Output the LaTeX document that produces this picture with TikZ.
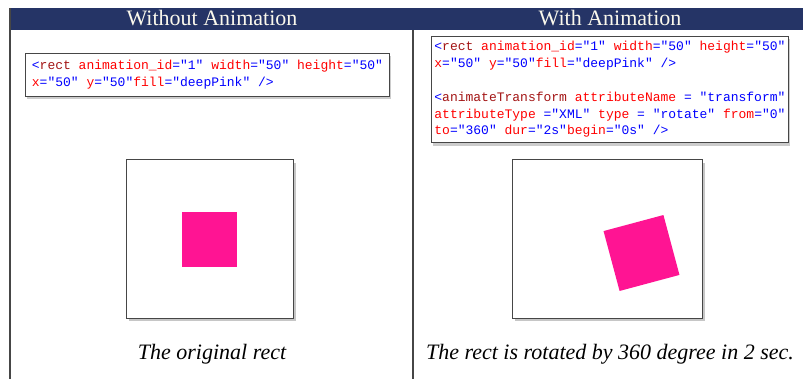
\documentclass[tikz,border=0pt]{standalone}
\usepackage{fontspec}
\setmainfont{Liberation Serif}
\newfontfamily\codefont{Liberation Mono}
\usepackage{tikz}
\usetikzlibrary{positioning,shadows}

\definecolor{headnavy}{RGB}{37,52,102}
\definecolor{headtext}{RGB}{250,248,236}
\definecolor{xmltag}{RGB}{163,21,21}
\definecolor{xmlattr}{RGB}{255,0,0}
\definecolor{xmlval}{RGB}{0,0,255}
\definecolor{deeppink}{RGB}{255,20,147}
\definecolor{framegray}{RGB}{70,70,70}

\newcommand{\xsym}[1]{\textcolor{xmlval}{#1}}
\newcommand{\xtag}[1]{\textcolor{xmltag}{#1}}
\newcommand{\xattr}[1]{\textcolor{xmlattr}{#1}}
\newcommand{\xval}[1]{\textcolor{xmlval}{#1}}

\tikzset{
    headtitle/.style={text=headtext, font=\fontsize{22}{22}\selectfont},
    codebox/.style={draw=framegray, line width=0.8pt, fill=white, anchor=north west,
        align=left,
        font=\codefont\fontsize{13}{16.8}\selectfont,
        drop shadow={shadow xshift=2pt, shadow yshift=-3pt, opacity=0.4}},
    canvasbox/.style={draw=framegray, line width=1pt, fill=white,
        drop shadow={shadow xshift=2.5pt, shadow yshift=-3pt, opacity=0.45}},
    pinkrect/.style={fill=deeppink, inner sep=0pt},
    caption/.style={font=\itshape\fontsize{22}{22}\selectfont}
}

\begin{document}
\begin{tikzpicture}[x=1pt, y=-1pt]
    \useasboundingbox (0,0) rectangle (803,379);

    \fill[headnavy] (10,8) rectangle (803,30);
    \draw[framegray, line width=1.4pt] (10,8) -- (10,379);
    \draw[framegray, line width=1.4pt] (413,30) -- (413,379);
    \node[headtitle] (lefthead) at (212,18) {Without Animation};
    \node[headtitle] (righthead) at (610,18) {With Animation};

    \node[codebox, inner xsep=6.5pt, inner ysep=7pt] (leftcode) at (25,53)
        {\xsym{<}\xtag{rect} \xattr{animation\_id}\xsym{=}\xval{"1"} \xattr{width}\xsym{=}\xval{"50"} \xattr{height}\xsym{=}\xval{"50"}\\
         \xattr{x}\xsym{=}\xval{"50"} \xattr{y}\xsym{=}\xval{"50"}\xattr{fill}\xsym{=}\xval{"deepPink"} \xsym{/>}};

    \node[codebox, inner xsep=3pt, inner ysep=5pt] (rightcode) at (431,36)
        {\xsym{<}\xtag{rect} \xattr{animation\_id}\xsym{=}\xval{"1"} \xattr{width}\xsym{=}\xval{"50"} \xattr{height}\xsym{=}\xval{"50"}\\
         \xattr{x}\xsym{=}\xval{"50"} \xattr{y}\xsym{=}\xval{"50"}\xattr{fill}\xsym{=}\xval{"deepPink"} \xsym{/>}\\[16.8pt]
         \xsym{<}\xtag{animateTransform} \xattr{attributeName} \xsym{=} \xval{"transform"}\\
         \xattr{attributeType} \xsym{=}\xval{"XML"} \xattr{type} \xsym{=} \xval{"rotate"} \xattr{from}\xsym{=}\xval{"0"}\\
         \xattr{to}\xsym{=}\xval{"360"} \xattr{dur}\xsym{=}\xval{"2s"}\xattr{begin}\xsym{=}\xval{"0s"} \xsym{/>}};

    \node[canvasbox, minimum width=167pt, minimum height=158pt] (leftcanvas) at (209.5,239) {};
    \node[pinkrect, minimum size=55pt] (leftrect) at (209.5,239.5) {};

    \node[canvasbox, minimum width=190pt, minimum height=158pt] (rightcanvas) at (607,239) {};
    \node[pinkrect, minimum size=62pt, rotate=15] (rightrect) at (641.5,253) {};

    \node[caption] (leftcap) at (212,354) {The original rect};
    \node[caption] (rightcap) at (610,354) {The rect is rotated by 360 degree in 2 sec.};
\end{tikzpicture}
\end{document}
